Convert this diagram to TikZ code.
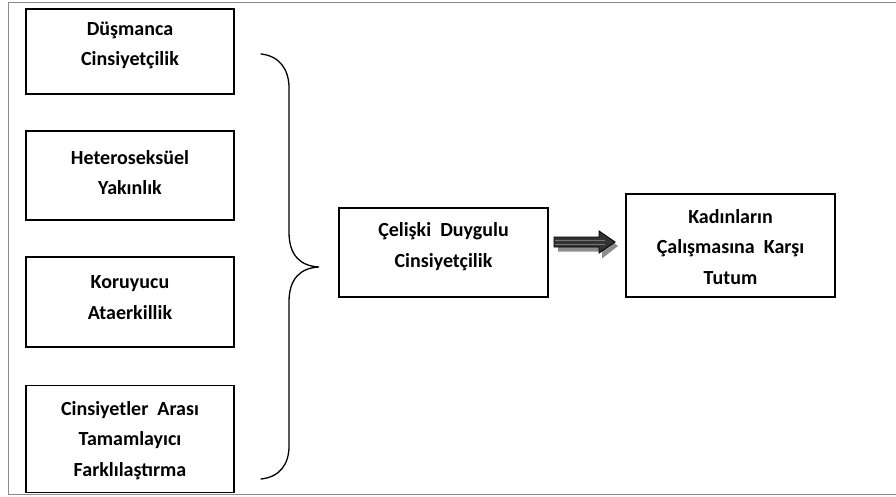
\documentclass[tikz,border=0pt]{standalone}
\usepackage{fontspec}
\setmainfont{Carlito}
\begin{document}
\begin{tikzpicture}[x=1pt,y=-1pt,
  box/.style={draw=black,line width=1.1pt,minimum width=208pt,inner sep=0pt},
  txt/.style={align=center,inner sep=0pt,font=\bfseries\fontsize{20}{30.5}\selectfont},
  frame/.style={draw=black!45,line width=1pt}]
\useasboundingbox (0,0) rectangle (896,497);
\draw[frame] (897,2.5) -- (8.5,2.5) -- (8.5,494) -- (897,494);
\node[box,minimum height=85pt] (b1) at (130,51.5) {};
\node[txt] (t1) at (130,45.5) {Düşmanca\\Cinsiyetçilik};
\node[box,minimum height=89pt] (b2) at (130,175.5) {};
\node[txt] (t2) at (130,172.5) {Heteroseksüel\\Yakınlık};
\node[box,minimum height=90pt] (b3) at (130,302) {};
\node[txt] (t3) at (130,297.5) {Koruyucu\\Ataerkillik};
\node[box,minimum height=107pt] (b4) at (130,439) {};
\node[txt] (t4) at (130,440.5) {Cinsiyetler\ \ Arası\\Tamamlayıcı\\Farklılaştırma};
\node[box,minimum height=89pt,minimum width=209pt] (m) at (443.5,252.5) {};
\node[txt] (tm) at (443.5,246.5) {Çelişki\ \ Duygulu\\Cinsiyetçilik};
\node[box,minimum height=103pt,minimum width=209pt] (r) at (730.5,245.5) {};
\node[txt] (tr) at (730.5,247) {Kadınların\\Çalışmasına\ \ Karşı\\Tutum};
\coordinate (bt) at (261,54);
\coordinate (tip) at (319,267);
\coordinate (bb) at (261,479);
\draw[line width=1.3pt,line cap=round] (bt) .. controls (280,56) and (289,70) .. (289,88)
  -- (289,232) .. controls (289,255) and (300,266) .. (tip)
  .. controls (300,268) and (289,279) .. (289,302)
  -- (289,446) .. controls (289,464) and (280,477) .. (bb);
% arrow with shadow
\coordinate (as) at (554,242);
\coordinate (ae) at (615,242);
\fill[black!45] (558,240.5) -- (602,240.5) -- (602,233.5) -- (618,246) -- (602,258.5) -- (602,251.5) -- (558,251.5) -- cycle;
\draw[black,line width=0.9pt,fill=black!80] (554,237) -- (599,237) -- (599,231) -- (ae) -- (599,253) -- (599,247) -- (554,247) -- cycle;
\draw[black!55,line width=0.8pt] (555,240) -- (605,240);
\draw[black!55,line width=0.8pt] (555,244) -- (605,244);
\end{tikzpicture}
\end{document}
